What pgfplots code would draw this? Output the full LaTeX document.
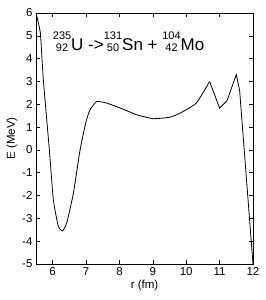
\documentclass[border=0pt]{standalone}
\usepackage{pgfplots}
\pgfplotsset{compat=1.18}
\usepackage{fontspec}
\setmainfont{Liberation Sans}
\newcommand{\iso}[3]{\mbox{\raisebox{-1pt}{\fontsize{11}{12.5}\selectfont\begin{tabular}[b]{@{}c@{}}#1\\#2\end{tabular}}#3}}
\begin{document}
\begin{tikzpicture}
\begin{axis}[
  scale only axis, width=217pt, height=251pt,
  xmin=5.5, xmax=12, ymin=-5, ymax=6,
  xtick={6,7,8,9,10,11,12}, ytick={-5,-4,-3,-2,-1,0,1,2,3,4,5,6},
  tick align=inside, major tick length=4pt,
  tick style={black, line width=0.5pt},
  axis line style={line width=0.6pt},
  ticklabel style={font=\fontsize{11.5}{11.5}\selectfont},
  /pgf/number format/assume math mode=true,
  xlabel={r (fm)}, ylabel={E (MeV)},
  label style={font=\fontsize{11.5}{11.5}\selectfont},
  xlabel style={yshift=2pt}, ylabel style={yshift=-2pt},
  clip=true,
]
\addplot[black, line width=0.8pt, smooth, tension=0.3] coordinates {
(5.5,6) (5.63,5.12) (5.72,3.07) (5.9,0) (6.02,-2.19) (6.17,-3.36) (6.29,-3.55)
(6.42,-3.2) (6.62,-1.9) (6.82,0) (7.0,1.25) (7.12,1.76) (7.32,2.12) (7.62,2.05)
(8.0,1.85) (8.5,1.55) (9.0,1.37) (9.5,1.43) (9.8,1.6) (10.3,2.05) (10.7,3.0)
};
\addplot[black, line width=0.8pt] coordinates {
(10.7,3.0) (11.0,1.83) (11.22,2.15) (11.5,3.3) (11.6,2.6) (12,-5)
};
\node[anchor=base west, inner sep=0pt, font=\fontsize{17}{17}\selectfont] at (axis cs:6.0,4.35)
  {\iso{235}{92}{U} -{}>\iso{131}{50}{Sn} + \iso{104}{42}{Mo}};
\end{axis}
\pgfresetboundingbox
\useasboundingbox (current axis.south west) ++(-36pt,-36pt) rectangle ([shift={(13pt,13pt)}]current axis.north east);
\end{tikzpicture}
\end{document}
